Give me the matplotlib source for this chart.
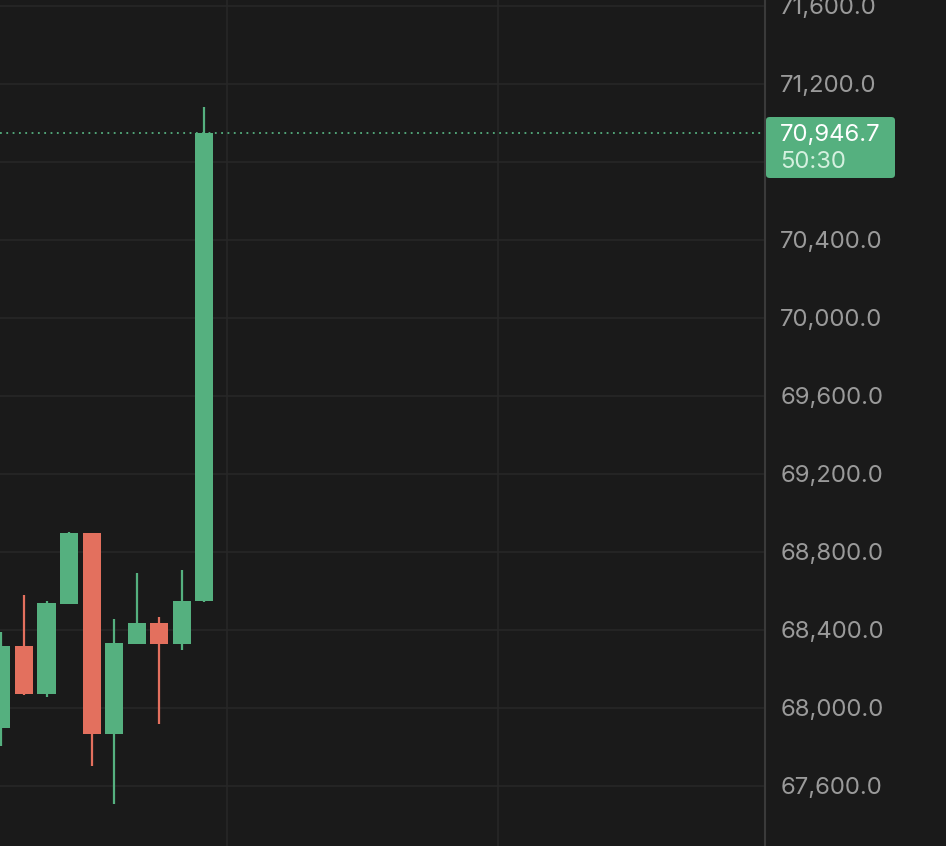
import matplotlib
matplotlib.use("Agg")
import matplotlib.pyplot as plt
from matplotlib.patches import FancyBboxPatch
import numpy as np

# Data (OHLC)
opens  = [67897, 68316, 68072, 68533, 68896, 67867, 68327, 68434, 68327, 68547]
highs  = [68388, 68578, 68547, 68900, 68898, 68455, 68691, 68465, 68706, 71080]
lows   = [67805, 68067, 68056, 68530, 67701, 67506, 68325, 67916, 68296, 68540]
closes = [68316, 68072, 68537, 68896, 67867, 68332, 68434, 68327, 68547, 70946.7]
last_price = 70946.7
countdown = "50:30"
yticks = [67600, 68000, 68400, 68800, 69200, 69600, 70000, 70400, 70800, 71200, 71600]

BG = "#1a1a1a"
GRID = "#272727"
UP = "#55b07f"
DOWN = "#e3705e"
TXT = "#9a9a9a"
plt.rcParams['font.family'] = ['Inter', 'DejaVu Sans']

fig = plt.figure(figsize=(9.46, 8.46), dpi=100, facecolor=BG)
ax = fig.add_axes([0, 0, 765/946, 1])
ax.set_facecolor(BG)

x = np.arange(len(opens))
for i in x:
    o, h, l, c = opens[i], highs[i], lows[i], closes[i]
    col = UP if c >= o else DOWN
    ax.vlines(i, l, h, color=col, linewidth=1.6, zorder=3)
    ax.bar(i, abs(c - o), bottom=min(o, c), width=0.8, color=col, zorder=4, linewidth=0)

ax.axhline(last_price, color=UP, linestyle=(0, (1, 2.5)), linewidth=1.3, zorder=2)

ax.set_xlim(-0.062, 33.86)
ax.set_ylim(67291, 71629)
ax.set_yticks(yticks)
ax.set_xticks([10, 22])
ax.grid(True, color=GRID, linewidth=1.2, zorder=0)
ax.tick_params(axis='x', length=0, labelbottom=False)
ax.yaxis.tick_right()
ax.tick_params(axis='y', length=0, pad=11, labelsize=17.2, labelcolor=TXT)
ax.set_yticklabels([f"{v:,.1f}" for v in yticks])
for s in ['top', 'bottom', 'left']:
    ax.spines[s].set_visible(False)
ax.spines['right'].set_color("#3a3a3a")
ax.spines['right'].set_linewidth(1.5)

# price label box
W, H = 946, 846
box = FancyBboxPatch((766/W, (H-178)/H), (895-766)/W, 61/H,
                     boxstyle="round,pad=0,rounding_size=0.004",
                     transform=fig.transFigure, facecolor=UP, edgecolor='none', zorder=5)
fig.patches.append(box)
fig.text(780/W, (H-135)/H, f"{last_price:,.1f}", color="white", fontsize=17.2,
         va='center', ha='left', zorder=10)
fig.text(780/W, (H-162)/H, countdown, color="#d4f0df", fontsize=17.2,
         va='center', ha='left', zorder=10)

fig.savefig("out.png", dpi=100, facecolor=BG)
